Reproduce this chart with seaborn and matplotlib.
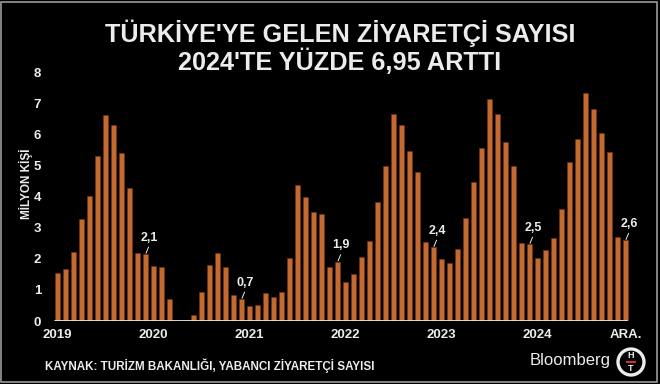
import matplotlib
matplotlib.use("Agg")
import matplotlib.pyplot as plt
import seaborn as sns
import numpy as np
import pandas as pd
from matplotlib.patches import Ellipse, Rectangle

# ---- data (million visitors, monthly Jan 2019 - Dec 2024) ----
years = [2019, 2020, 2021, 2022, 2023, 2024]
v2019 = [1.53, 1.66, 2.23, 3.28, 4.02, 5.31, 6.63, 6.31, 5.42, 4.29, 2.20, 2.15]
v2020 = [1.77, 1.73, 0.72, 0.00, 0.03, 0.19, 0.92, 1.80, 2.20, 1.73, 0.83, 0.70]
v2021 = [0.49, 0.52, 0.89, 0.78, 0.92, 2.04, 4.36, 3.98, 3.50, 3.45, 1.75, 1.90]
v2022 = [1.27, 1.52, 2.07, 2.58, 3.82, 5.00, 6.66, 6.30, 5.47, 4.80, 2.54, 2.37]
v2023 = [1.98, 1.86, 2.33, 3.30, 4.47, 5.57, 7.14, 6.65, 5.77, 4.97, 2.51, 2.47]
v2024 = [2.04, 2.27, 2.67, 3.59, 5.10, 5.85, 7.33, 6.81, 6.04, 5.43, 2.71, 2.59]
dec_labels = ["2,1", "0,7", "1,9", "2,4", "2,5", "2,6"]
x_tick_labels = ["2019", "2020", "2021", "2022", "2023", "2024", "ARA."]
y_ticks = [0, 1, 2, 3, 4, 5, 6, 7, 8]

values = v2019 + v2020 + v2021 + v2022 + v2023 + v2024
df = pd.DataFrame({"idx": np.arange(len(values)), "val": values})

BG = "#000000"
BAR = "#c4692f"
TXT = "#ececec"

sns.set_theme(style="dark")
plt.rcParams["font.family"] = ["Liberation Sans", "DejaVu Sans"]

fig = plt.figure(figsize=(6.6, 3.84), dpi=100, facecolor=BG)
W, H = 660, 384
L, R = 53.7, 629.7
B, T = 321.0, 72.3
ax = fig.add_axes([L / W, (H - B) / H, (R - L) / W, (B - T) / H])
ax.set_facecolor(BG)

sns.barplot(data=df, x="idx", y="val", color=BAR, width=0.6, saturation=1,
            edgecolor="#7a3510", linewidth=0.4, ax=ax)

ax.set_xlim(-0.5, len(values) - 0.5)
ax.set_ylim(0, 8)
for s in ax.spines.values():
    s.set_visible(False)
ax.grid(False)
ax.axhline(0, xmin=0.002, xmax=0.995, color="#eee6d8", lw=1.3, zorder=5)

xt = [0, 12, 24, 36, 48, 60, len(values) - 1]
ax.set_xticks(xt)
ax.set_xticklabels(x_tick_labels, color=TXT, fontsize=9.5, fontweight="bold")
ax.set_yticks(y_ticks)
ax.set_yticklabels([str(t) for t in y_ticks], color=TXT, fontsize=9.5, fontweight="bold")
ax.tick_params(axis="x", length=0, pad=6)
ax.tick_params(axis="y", length=0, pad=9)
ax.set_xlabel("")
ax.set_ylabel("MİLYON KİŞİ", color=TXT, fontsize=8.5, fontweight="bold")
ax.yaxis.set_label_coords(-0.036, 0.55)

# December annotations (label + short leader line)
for k, lab in enumerate(dec_labels):
    i = 12 * k + 11
    v = values[i]
    ax.text(i + 0.45, v + 0.34, lab, color=TXT, fontsize=9, fontweight="bold",
            ha="center", va="bottom")
    ax.plot([i + 0.02, i + 0.38], [v + 0.02, v + 0.24], color=TXT, lw=0.7,
            solid_capstyle="butt")

# titles
fig.text(0.515, 1 - 33 / H, "TÜRKİYE'YE GELEN ZİYARETÇİ SAYISI", color=TXT,
         fontsize=18.2, fontweight="bold", ha="center", va="center")
fig.text(0.515, 1 - 62 / H, "2024'TE YÜZDE 6,95 ARTTI", color=TXT,
         fontsize=18.2, fontweight="bold", ha="center", va="center")

# source
fig.text(45 / W, 1 - 366 / H, "KAYNAK: TURİZM BAKANLIĞI, YABANCI ZİYARETÇİ SAYISI",
         color=TXT, fontsize=8.4, fontweight="bold", ha="left", va="center")

# Bloomberg HT logo
fig.text(570 / W, 1 - 360 / H, "Bloomberg", color=TXT, fontsize=12, ha="center", va="center")
fig.add_artist(Ellipse((631 / W, 1 - 362 / H), 26 / W, 26 / H, transform=fig.transFigure,
                       facecolor=BG, edgecolor=TXT, lw=2.4))
fig.text(631 / W, 1 - 355.5 / H, "H", color=TXT, fontsize=6.5, fontweight="bold",
         ha="center", va="center")
fig.text(631 / W, 1 - 368.5 / H, "T", color=TXT, fontsize=6.5, fontweight="bold",
         ha="center", va="center")
fig.add_artist(Rectangle((626 / W, 1 - 363 / H), 10 / W, 2 / H, transform=fig.transFigure,
                         facecolor="#d0303a", edgecolor="none"))

# frame
fig.add_artist(Rectangle((0.002, 0.004), 0.993, 0.992, transform=fig.transFigure,
                         facecolor="none", edgecolor="#9a9a9a", lw=1.2))

fig.savefig("out.png", dpi=100, facecolor=BG)
